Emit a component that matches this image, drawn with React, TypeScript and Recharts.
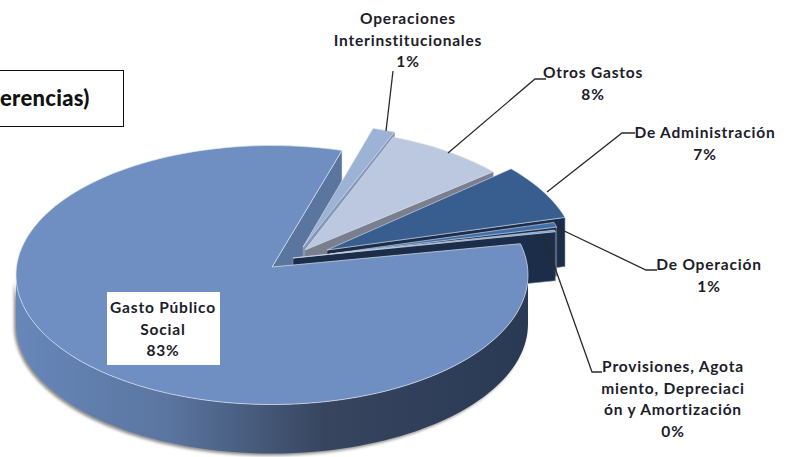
import React from 'react';
import { PieChart, Pie } from 'recharts';

const categories = ['Gasto Público Social', 'Operaciones Interinstitucionales', 'Otros Gastos', 'De Administración', 'De Operación', 'Provisiones, Agotamiento, Depreciación y Amortización'];
const shares = [83.3, 1.4, 7.6, 6.9, 0.6, 0.2];

const tableData = categories.map((name, i) => ({ name, value: shares[i] }));

// drawing constants, one row per slice
const topColors = ['#6F8FC2', '#9DB3D6', '#BCC8DF', '#375E8E', '#3F6EA8', '#6F9DCB'];
const wallColors = ['#5A769F', '#8397B8', '#797F8E', '#1B2D48', '#1B2D48', '#1B2D48'];
const centerShift = [[0, 0], [31, -22], [30, -17], [48, -20], [37, -15], [35, -12]];
const apexShift = [[0, -8], [31, -28], [33, -25], [55, -25], [58, -21], [21, -17]];

const labelLines = [
  ['Gasto Público', 'Social'],
  ['Operaciones', 'Interinstitucionales'],
  ['Otros Gastos'],
  ['De Administración'],
  ['De Operación'],
  ['Provisiones, Agota', 'miento, Depreciaci', 'ón y Amortización'],
];
const labelX = [163, 408, 593, 705, 709, 673];
const labelY = [307, 18, 72, 132, 264, 366];
const leaders = [
  '',
  '386,131 393,71',
  '448,153 535,79 546,79',
  '547,192 622,133 635,133',
  '558,228 646,270 657,270',
  '543,234 592,372 602,372',
];

const CX = 272;
const CY = 275;
const RX = 256;
const RY_RATIO = 129.5 / 256;
const DEPTH = 49;
const LINE_GAP = 21.6;
const RAD = Math.PI / 180;

const pointAt = (cx: number, cy: number, r: number, deg: number) => [
  cx + r * Math.cos(deg * RAD),
  cy - r * RY_RATIO * Math.sin(deg * RAD),
];

const arcPoints = (cx: number, cy: number, r: number, from: number, to: number) => {
  const steps = Math.max(2, Math.ceil(Math.abs(to - from) / 2));
  const pts: number[][] = [];
  for (let s = 0; s <= steps; s++) pts.push(pointAt(cx, cy, r, from + ((to - from) * s) / steps));
  return pts;
};

const toPath = (pts: number[][]) => 'M' + pts.map(p => `${p[0].toFixed(1)},${p[1].toFixed(1)}`).join('L') + 'Z';

const sliceGeometry = (props: any) => {
  const i = categories.indexOf(props.name);
  const cx = props.cx + centerShift[i][0];
  const cy = props.cy + centerShift[i][1];
  const apex = [props.cx + apexShift[i][0], props.cy + apexShift[i][1]];
  const arc = arcPoints(cx, cy, props.outerRadius, props.startAngle, props.endAngle);
  return { i, cx, cy, apex, arc };
};

const drop = (p: number[]) => [p[0], p[1] + DEPTH];
const EDGE = '#DCE3EF';

// first pass: the cut faces and the exploded slices, back to front
const BackSlice = (props: any) => {
  const { i, apex, arc } = sliceGeometry(props);
  const tip = arc[arc.length - 1];
  const wall = toPath([apex, tip, drop(tip), drop(apex)]);
  if (i === 0) return <path d={wall} fill={wallColors[0]} stroke={EDGE} strokeWidth={0.5} />;
  return (
    <g>
      <path d={wall} fill={wallColors[i]} stroke="#8C97A8" strokeWidth={0.6} />
      <path d={toPath([apex, ...arc])} fill={topColors[i]} stroke={EDGE} strokeWidth={0.6} />
    </g>
  );
};

// second pass: the big slice goes over everything else
const FrontSlice = (props: any) => {
  const { i, cx, cy, apex, arc } = sliceGeometry(props);
  if (i !== 0) return <g />;
  const lower = arcPoints(cx, cy, props.outerRadius, 0, -180);
  return (
    <g>
      <path
        d={toPath([...lower, ...lower.map(drop).reverse()])}
        fill="url(#wallFade)"
        style={{ filter: 'drop-shadow(-2px 2px 1.5px rgba(0,0,0,0.45))' }}
      />
      <path d={toPath([apex, ...arc])} fill={topColors[0]} stroke={EDGE} strokeWidth={0.7} />
    </g>
  );
};

const textStyle = { fontFamily: 'Lato, sans-serif', fontSize: 15.5, fontWeight: 700, letterSpacing: 0.8, fill: '#1C1C2A' };

const SliceLabel = (props: any) => {
  const i = props.index;
  const lines = [...labelLines[i], `${Math.round(props.percent * 100)}%`];
  return (
    <g>
      {i === 0 && <rect x={107} y={292} width={113} height={73} fill="#FFFFFF" />}
      {leaders[i] && <polyline points={leaders[i]} fill="none" stroke="#2A2A2A" strokeWidth={1.3} />}
      {lines.map((line, n) => (
        <text key={n} x={labelX[i]} y={labelY[i] + n * LINE_GAP} textAnchor="middle" dominantBaseline="central" style={textStyle}>
          {line}
        </text>
      ))}
    </g>
  );
};

export default function App() {
  return (
    <div style={{ position: 'absolute', left: 0, top: 0, width: 787, height: 457, overflow: 'hidden', background: '#FFFFFF' }}>
      <PieChart width={787} height={457} margin={{ top: 0, right: 0, bottom: 0, left: 0 }}>
        <defs>
          <linearGradient id="wallFade" gradientUnits="userSpaceOnUse" x1={16} y1={0} x2={528} y2={0}>
            <stop offset="0" stopColor="#6787BA" />
            <stop offset="0.3" stopColor="#5A759F" />
            <stop offset="0.6" stopColor="#37455F" />
            <stop offset="1" stopColor="#2A3954" />
          </linearGradient>
        </defs>
        <Pie
          data={tableData}
          dataKey="value"
          nameKey="name"
          cx={CX}
          cy={CY}
          outerRadius={RX}
          startAngle={14}
          endAngle={-346}
          shape={BackSlice}
          isAnimationActive={false}
        />
        <Pie
          data={tableData}
          dataKey="value"
          nameKey="name"
          cx={CX}
          cy={CY}
          outerRadius={RX}
          startAngle={14}
          endAngle={-346}
          shape={FrontSlice}
          label={SliceLabel}
          labelLine={false}
          isAnimationActive={false}
        />
      </PieChart>
      <div
        style={{
          position: 'absolute',
          left: -4,
          top: 70,
          width: 128,
          height: 57,
          boxSizing: 'border-box',
          border: '1.5px solid #111',
          background: '#FFFFFF',
          fontFamily: 'Lato, sans-serif',
          fontWeight: 900,
          fontSize: 22,
          letterSpacing: 0.3,
          lineHeight: '54px',
          color: '#111',
          paddingLeft: 3,
          whiteSpace: 'nowrap',
        }}
      >
        erencias)
      </div>
    </div>
  );
}
